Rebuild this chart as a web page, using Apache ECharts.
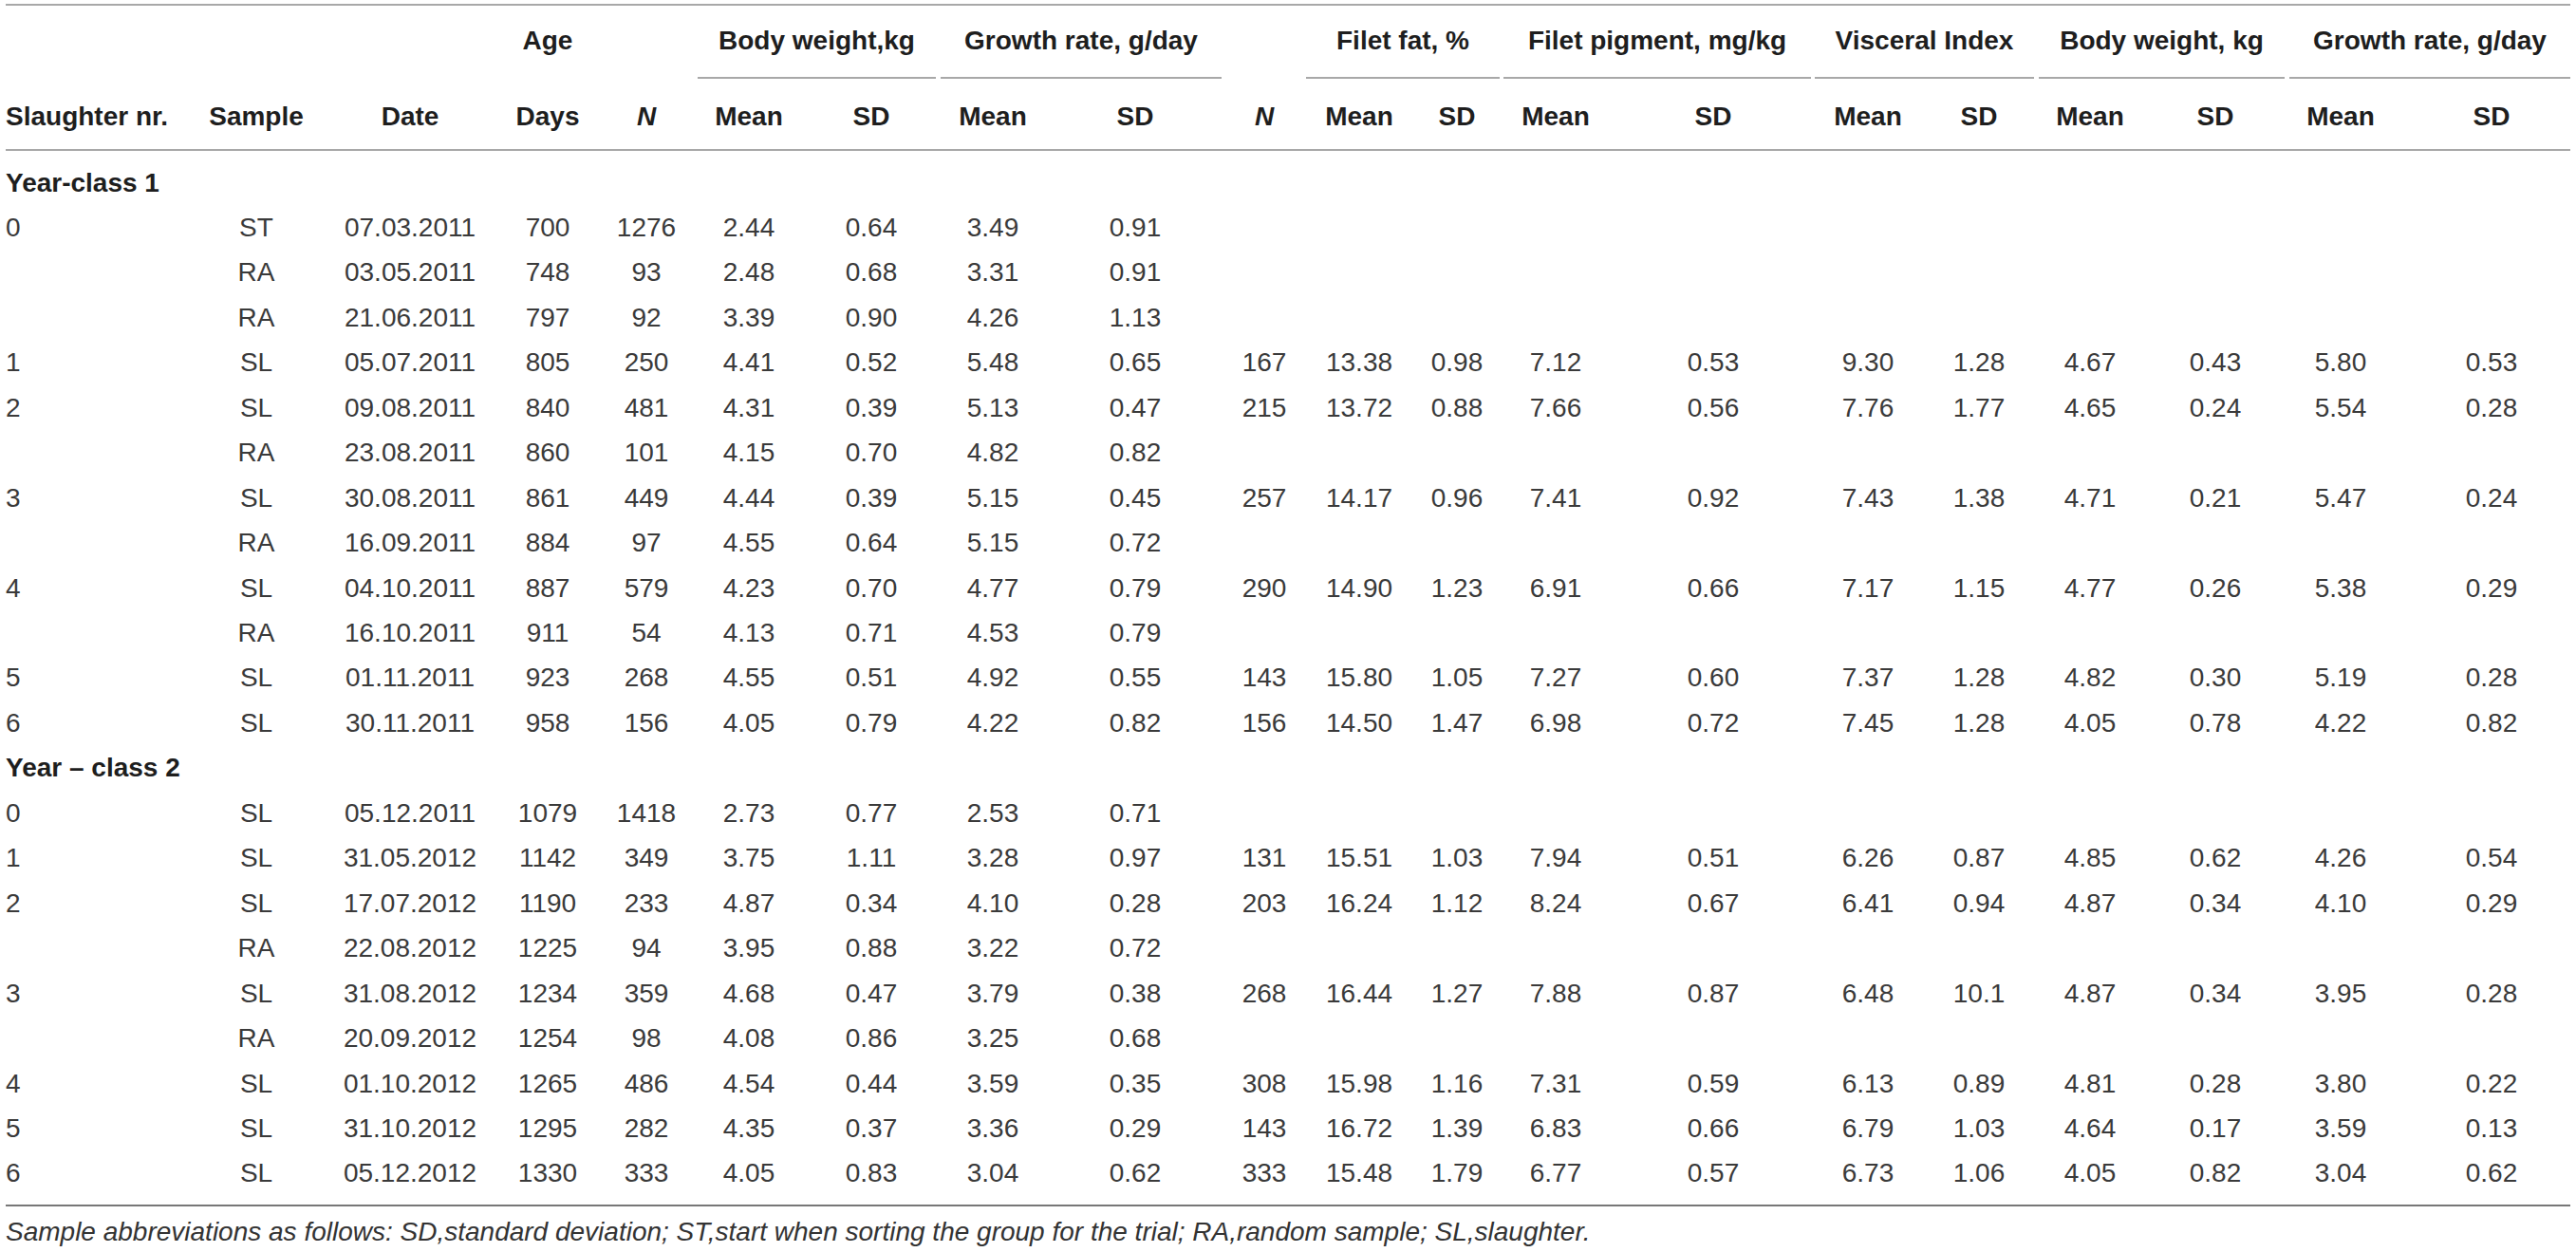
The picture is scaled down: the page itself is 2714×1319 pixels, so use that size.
<!DOCTYPE html>
<html>
<head>
<meta charset="utf-8">
<script src="https://cdn.jsdelivr.net/npm/echarts@6/dist/echarts.min.js"></script>
<style>
  html, body { margin: 0; padding: 0; background: #fff; }
  #chart { width: 2714px; height: 1319px; }
</style>
</head>
<body>
<div id="chart"></div>
<script>
// ---------------- DATA ----------------
const groupLabels = ['Year-class 1', 'Year \u2013 class 2'];
const groupSizes = [12, 9];

const slaughterNr = ['0', null, null, '1', '2', null, '3', null, '4', null, '5', '6',
                     '0', '1', '2', null, '3', null, '4', '5', '6'];
const sample = ['ST', 'RA', 'RA', 'SL', 'SL', 'RA', 'SL', 'RA', 'SL', 'RA', 'SL', 'SL',
                'SL', 'SL', 'SL', 'RA', 'SL', 'RA', 'SL', 'SL', 'SL'];
const dates = ['07.03.2011', '03.05.2011', '21.06.2011', '05.07.2011', '09.08.2011', '23.08.2011',
               '30.08.2011', '16.09.2011', '04.10.2011', '16.10.2011', '01.11.2011', '30.11.2011',
               '05.12.2011', '31.05.2012', '17.07.2012', '22.08.2012', '31.08.2012', '20.09.2012',
               '01.10.2012', '31.10.2012', '05.12.2012'];
const ageDays = ['700', '748', '797', '805', '840', '860', '861', '884', '887', '911', '923', '958',
                 '1079', '1142', '1190', '1225', '1234', '1254', '1265', '1295', '1330'];
const nAll = ['1276', '93', '92', '250', '481', '101', '449', '97', '579', '54', '268', '156',
              '1418', '349', '233', '94', '359', '98', '486', '282', '333'];
const bwMean = ['2.44', '2.48', '3.39', '4.41', '4.31', '4.15', '4.44', '4.55', '4.23', '4.13', '4.55', '4.05',
                '2.73', '3.75', '4.87', '3.95', '4.68', '4.08', '4.54', '4.35', '4.05'];
const bwSD = ['0.64', '0.68', '0.90', '0.52', '0.39', '0.70', '0.39', '0.64', '0.70', '0.71', '0.51', '0.79',
              '0.77', '1.11', '0.34', '0.88', '0.47', '0.86', '0.44', '0.37', '0.83'];
const grMean = ['3.49', '3.31', '4.26', '5.48', '5.13', '4.82', '5.15', '5.15', '4.77', '4.53', '4.92', '4.22',
                '2.53', '3.28', '4.10', '3.22', '3.79', '3.25', '3.59', '3.36', '3.04'];
const grSD = ['0.91', '0.91', '1.13', '0.65', '0.47', '0.82', '0.45', '0.72', '0.79', '0.79', '0.55', '0.82',
              '0.71', '0.97', '0.28', '0.72', '0.38', '0.68', '0.35', '0.29', '0.62'];
const nSlaughter = [null, null, null, '167', '215', null, '257', null, '290', null, '143', '156',
                    null, '131', '203', null, '268', null, '308', '143', '333'];
const fatMean = [null, null, null, '13.38', '13.72', null, '14.17', null, '14.90', null, '15.80', '14.50',
                 null, '15.51', '16.24', null, '16.44', null, '15.98', '16.72', '15.48'];
const fatSD = [null, null, null, '0.98', '0.88', null, '0.96', null, '1.23', null, '1.05', '1.47',
               null, '1.03', '1.12', null, '1.27', null, '1.16', '1.39', '1.79'];
const pigMean = [null, null, null, '7.12', '7.66', null, '7.41', null, '6.91', null, '7.27', '6.98',
                 null, '7.94', '8.24', null, '7.88', null, '7.31', '6.83', '6.77'];
const pigSD = [null, null, null, '0.53', '0.56', null, '0.92', null, '0.66', null, '0.60', '0.72',
               null, '0.51', '0.67', null, '0.87', null, '0.59', '0.66', '0.57'];
const visMean = [null, null, null, '9.30', '7.76', null, '7.43', null, '7.17', null, '7.37', '7.45',
                 null, '6.26', '6.41', null, '6.48', null, '6.13', '6.79', '6.73'];
const visSD = [null, null, null, '1.28', '1.77', null, '1.38', null, '1.15', null, '1.28', '1.28',
               null, '0.87', '0.94', null, '10.1', null, '0.89', '1.03', '1.06'];
const bw2Mean = [null, null, null, '4.67', '4.65', null, '4.71', null, '4.77', null, '4.82', '4.05',
                 null, '4.85', '4.87', null, '4.87', null, '4.81', '4.64', '4.05'];
const bw2SD = [null, null, null, '0.43', '0.24', null, '0.21', null, '0.26', null, '0.30', '0.78',
               null, '0.62', '0.34', null, '0.34', null, '0.28', '0.17', '0.82'];
const gr2Mean = [null, null, null, '5.80', '5.54', null, '5.47', null, '5.38', null, '5.19', '4.22',
                 null, '4.26', '4.10', null, '3.95', null, '3.80', '3.59', '3.04'];
const gr2SD = [null, null, null, '0.53', '0.28', null, '0.24', null, '0.29', null, '0.28', '0.82',
               null, '0.54', '0.29', null, '0.28', null, '0.22', '0.13', '0.62'];

const columnHeaders = ['Slaughter nr.', 'Sample', 'Date', 'Days', 'N', 'Mean', 'SD', 'Mean', 'SD',
                       'N', 'Mean', 'SD', 'Mean', 'SD', 'Mean', 'SD', 'Mean', 'SD', 'Mean', 'SD'];
const groupHeaders = ['Age', 'Body weight,kg', 'Growth rate, g/day', 'Filet fat, %', 'Filet pigment, mg/kg',
                      'Visceral Index', 'Body weight, kg', 'Growth rate, g/day'];
const footnote = 'Sample abbreviations as follows: SD,standard deviation; ST,start when sorting the group for the trial; RA,random sample; SL,slaughter.';

const columns = [slaughterNr, sample, dates, ageDays, nAll, bwMean, bwSD, grMean, grSD, nSlaughter,
                 fatMean, fatSD, pigMean, pigSD, visMean, visSD, bw2Mean, bw2SD, gr2Mean, gr2SD];

// ---------------- LAYOUT / STYLE ----------------
const W = 2714, H = 1319;
const FONT = "'Liberation Sans', Arial, Helvetica, sans-serif";
const colX = [6, 270, 432, 577, 681, 789, 918, 1046, 1196, 1332, 1432, 1535, 1639, 1805, 1968, 2085, 2202, 2334, 2466, 2625];
const colAlign = ['left'].concat(new Array(19).fill('center'));
const italicHeader = [4, 9]; // N columns
// group header spans (underline extents); first (Age) has no underline
const groupSpan = [[577, 577, false], [735, 986, true], [991, 1287, true], [1376, 1580, true], [1584, 1908, true],
                   [1912, 2143, true], [2148, 2407, true], [2412, 2708, true]];
const DATA_FONT = '28px ' + FONT;
const BOLD_FONT = 'bold 28px ' + FONT;
const DATA_COLOR = '#3a3a3a';
const HEAD_COLOR = '#1e1e1e';

// ---------------- BUILD ----------------
const rowCats = [];
const dataRowCat = [];   // category index for each data row
const groupRowCat = [];
let k = 0;
groupLabels.forEach((g, gi) => {
  groupRowCat.push(rowCats.length);
  rowCats.push('G' + gi);
  for (let i = 0; i < groupSizes[gi]; i++) {
    dataRowCat.push(rowCats.length);
    rowCats.push('R' + (k++));
  }
});

function textSeries(grid, items) {
  return {
    type: 'custom',
    coordinateSystem: 'cartesian2d',
    xAxisIndex: grid, yAxisIndex: grid,
    silent: true,
    clip: false,
    data: items.map(it => [it.x, it.y]),
    renderItem: function (params, api) {
      const it = items[params.dataIndex];
      const p = api.coord([api.value(0), api.value(1)]);
      return {
        type: 'text', x: p[0], y: p[1],
        style: { text: it.t, font: it.font, fill: it.color, align: it.align, verticalAlign: 'middle' }
      };
    }
  };
}

const series = [];
// body cells, one series per column
columns.forEach((col, ci) => {
  const items = [];
  col.forEach((v, ri) => {
    if (v !== null && v !== undefined && v !== '') {
      items.push({ x: colX[ci], y: dataRowCat[ri], t: v, font: DATA_FONT, color: DATA_COLOR, align: colAlign[ci] });
    }
  });
  series.push(textSeries(1, items));
});
// group rows
series.push(textSeries(1, groupLabels.map((g, gi) => ({
  x: colX[0], y: groupRowCat[gi], t: g, font: BOLD_FONT, color: HEAD_COLOR, align: 'left'
}))));
// header row 1 (group headers)
series.push(textSeries(0, groupHeaders.map((g, gi) => ({
  x: (groupSpan[gi][0] + groupSpan[gi][1]) / 2, y: 0, t: g, font: BOLD_FONT, color: HEAD_COLOR, align: 'center'
}))));
// header row 2 (column headers)
series.push(textSeries(0, columnHeaders.map((h, ci) => ({
  x: colX[ci], y: 1, t: h,
  font: (italicHeader.indexOf(ci) >= 0 ? 'italic bold 28px ' : 'bold 28px ') + FONT,
  color: HEAD_COLOR, align: colAlign[ci]
}))));

const RULE = '#a8a8a8';
const graphic = [
  { type: 'line', shape: { x1: 6, y1: 5, x2: 2708, y2: 5 }, style: { stroke: RULE, lineWidth: 2 }, silent: true },
  { type: 'line', shape: { x1: 6, y1: 158, x2: 2708, y2: 158 }, style: { stroke: RULE, lineWidth: 2 }, silent: true },
  { type: 'line', shape: { x1: 6, y1: 1270, x2: 2708, y2: 1270 }, style: { stroke: '#777', lineWidth: 2 }, silent: true },
  { type: 'text', left: 6, top: 1283, silent: true,
    style: { text: footnote, font: 'italic 28px ' + FONT, fill: '#333' } }
];
groupSpan.forEach(s => {
  if (s[2]) graphic.push({ type: 'line', shape: { x1: s[0], y1: 82, x2: s[1], y2: 82 },
    style: { stroke: RULE, lineWidth: 2 }, silent: true });
});

const BAND = 47.45;
const bodyTop = 192 - BAND / 2;
const bodyHeight = BAND * rowCats.length;

const option = {
  animation: false,
  backgroundColor: '#ffffff',
  grid: [
    { left: 0, right: 0, top: 2, height: 160 },
    { left: 0, right: 0, top: bodyTop, height: bodyHeight }
  ],
  xAxis: [
    { gridIndex: 0, type: 'value', min: 0, max: W, show: false },
    { gridIndex: 1, type: 'value', min: 0, max: W, show: false }
  ],
  yAxis: [
    { gridIndex: 0, type: 'category', data: ['head1', 'head2'], inverse: true, show: false },
    { gridIndex: 1, type: 'category', data: rowCats, inverse: true, show: false }
  ],
  graphic: graphic,
  series: series
};

const chart = echarts.init(document.getElementById('chart'), null, { renderer: 'svg', width: W, height: H });
chart.setOption(option);
</script>
</body>
</html>
